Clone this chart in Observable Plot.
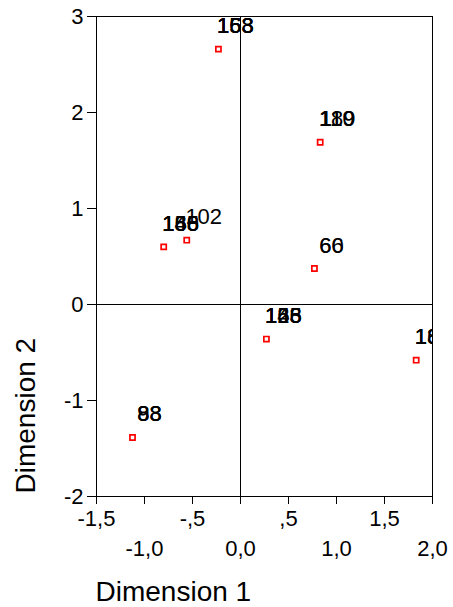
<!DOCTYPE html>
<html>
<head>
<meta charset="utf-8">
<script src="https://cdn.jsdelivr.net/npm/d3@7"></script>
<script src="https://cdn.jsdelivr.net/npm/@observablehq/plot@0.6"></script>
<style>
  body { margin: 0; background: #fff; }
  #chart svg { display: block; }
</style>
</head>
<body>
<div id="chart"></div>
<script>
// Object points (dimension scores)
const dim1 = [-0.23, 0.83, -0.80, -0.56, 0.77, 0.27, 1.83, -1.125];
const dim2 = [2.66, 1.69, 0.60, 0.67, 0.375, -0.36, -0.58, -1.385];

// Case labels (several coincident cases per point, drawn on top of each other)
const labelPoint = [0, 0, 0, 0, 1, 1, 1, 2, 2, 2, 2, 3, 4, 4, 5, 5, 5, 5, 6, 6, 6, 7, 7, 7];
const labelText  = ["153", "168", "158", "163", "189", "110", "119", "155", "148", "160", "186", "102",
                    "66", "60", "163", "125", "158", "146", "132", "185", "160", "88", "98", "83"];

// Axis ticks
const xTicksUpper = [-1.5, -0.5, 0.5, 1.5];
const xLabelsUpper = ["-1,5", "-,5", ",5", "1,5"];
const xTicksLower = [-1.0, 0.0, 1.0, 2.0];
const xLabelsLower = ["-1,0", "0,0", "1,0", "2,0"];
const yTicks = [-2, -1, 0, 1, 2, 3];
const yLabels = ["-2", "-1", "0", "1", "2", "3"];

const xTitle = "Dimension 1";
const yTitle = "Dimension 2";

const points = dim1.map((d, i) => ({x: d, y: dim2[i]}));
const labels = labelText.map((t, i) => ({x: dim1[labelPoint[i]], y: dim2[labelPoint[i]], text: t}));

const font = "'Liberation Sans', Arial, Helvetica, sans-serif";

const chart = Plot.plot({
  width: 453,
  height: 607,
  marginLeft: 96,
  marginRight: 21,
  marginTop: 16,
  marginBottom: 111,
  style: {fontFamily: font, background: "white", color: "black"},
  x: {domain: [-1.5, 2.0]},
  y: {domain: [-2, 3]},
  marks: [
    Plot.ruleX([0], {stroke: "black", strokeWidth: 1}),
    Plot.ruleY([0], {stroke: "black", strokeWidth: 1}),
    Plot.frame({stroke: "black", strokeWidth: 1}),
    Plot.axisY({ticks: yTicks, tickFormat: d => yLabels[yTicks.indexOf(d)], tickSize: 9, tickPadding: 4,
                fontSize: 22, label: null, stroke: "black"}),
    Plot.axisX({ticks: xTicksUpper, tickFormat: d => xLabelsUpper[xTicksUpper.indexOf(d)], tickSize: 8, tickPadding: 6,
                fontSize: 22, label: null, stroke: "black"}),
    Plot.axisX({ticks: xTicksLower, tickFormat: d => xLabelsLower[xTicksLower.indexOf(d)], tickSize: 8, tickPadding: 36,
                fontSize: 22, label: null, stroke: "black"}),
    Plot.dot(points, {x: "x", y: "y", symbol: "square", r: 2.9, stroke: "#ff0000", strokeWidth: 1.7, fill: "white"}),
    Plot.text(labels, {x: "x", y: "y", text: "text", textAnchor: "middle", lineAnchor: "bottom",
                       dx: 17, dy: -16, fontSize: 22, fill: "black", clip: true}),
    Plot.text([xTitle], {frameAnchor: "bottom-left", textAnchor: "start", lineAnchor: "bottom",
                         dx: -1, dy: 104, fontSize: 28, fill: "black"}),
    Plot.text([yTitle], {frameAnchor: "bottom-left", textAnchor: "start", lineAnchor: "bottom", rotate: -90,
                         dx: -62, dy: -3, fontSize: 28, fill: "black"})
  ]
});
document.getElementById("chart").appendChild(chart);
</script>
</body>
</html>
